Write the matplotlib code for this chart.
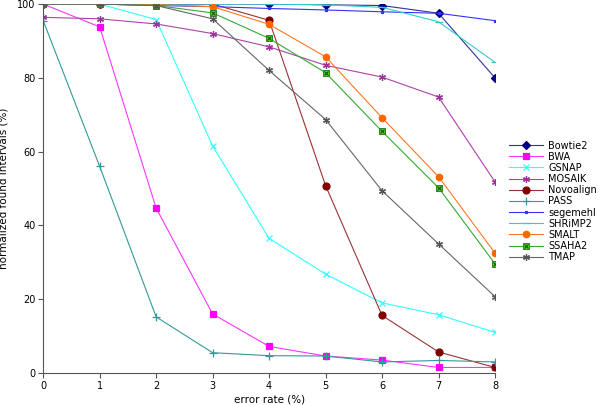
import numpy as np
import matplotlib.pyplot as plt
from matplotlib.lines import Line2D

# ---------------- DATA ----------------
error_rate = [0, 1, 2, 3, 4, 5, 6, 7, 8]

bowtie2 = [100, 100, 100, 100, 100, 99.8, 99.6, 97.5, 80]
bwa = [100, 93.8, 44.7, 16, 7.2, 4.6, 3.5, 1.5, 1.5]
gsnap = [100, 100, 95.8, 61.5, 36.5, 26.8, 19, 15.8, 11]
mosaik = [96.4, 96, 94.6, 92, 88.4, 83.4, 80.2, 74.8, 51.8]
novoalign = [100, 100, 100, 100, 95.6, 50.8, 15.6, 5.7, 1.5]
pass_ = [95.5, 56, 15.2, 5.5, 4.7, 4.6, 3, 3.4, 3]
segemehl = [100, 100, 99.6, 99.3, 98.8, 98.4, 97.9, 97.5, 95.5]
shrimp2 = [100, 100, 100, 100, 100, 99.8, 99.1, 95.2, 84.2]
smalt = [100, 100, 99.8, 99.3, 94.5, 85.7, 69.2, 53.2, 32.5]
ssaha2 = [100, 100, 99.6, 97.6, 90.7, 81.4, 65.5, 50.2, 29.6]
tmap = [100, 100, 99.6, 96, 82, 68.7, 49.4, 35, 20.7]

labels = ["Bowtie2", "BWA", "GSNAP", "MOSAIK", "Novoalign", "PASS",
          "segemehl", "SHRiMP2", "SMALT", "SSAHA2", "TMAP"]
series = [bowtie2, bwa, gsnap, mosaik, novoalign, pass_,
          segemehl, shrimp2, smalt, ssaha2, tmap]

# (line colour, marker, marker colour, marker size)
styles = [
    ("#333399", "D", "#000080", 3.8),
    ("#ff33ff", "s", "#ff00ff", 4.6),
    ("#33ffff", "x", "#33ffff", 5),
    ("#aa44aa", (6, 2, 0), "#993399", 5),
    ("#993333", "o", "#800000", 5),
    ("#339999", "+", "#339999", 6),
    ("#3333ff", "s", "#3333ff", 1.8),
    ("#33cccc", "_", "#33cccc", 5.5),
    ("#ff7722", "o", "#ff6600", 4.6),
    ("#33aa33", "s", "#66cc22", 4.6),
    ("#666666", (6, 2, 0), "#555555", 5),
]

fig = plt.figure(figsize=(6, 4.05), dpi=100)
ax = fig.add_axes([0.072, 0.079, 0.753, 0.911])

handles = []
for lab, ys, (lc, mk, mc, ms) in zip(labels, series, styles):
    if lab == "SSAHA2":
        ax.plot(error_rate, ys, color=lc, lw=0.8, marker="s", ms=ms,
                mfc=mc, mec="#228822", mew=0.7)
        ax.plot(error_rate, ys, ls="none", marker="x", ms=ms - 1.5,
                mec="#115511", mew=0.8)
        h = (Line2D([], [], color=lc, lw=0.8, marker="s", ms=ms, mfc=mc,
                    mec="#228822", mew=0.7),
             Line2D([], [], ls="none", marker="x", ms=ms - 1.5, mec="#115511",
                    mew=0.8))
    else:
        line, = ax.plot(error_rate, ys, color=lc, lw=0.8, marker=mk, ms=ms,
                        mfc=mc, mec=mc, mew=0.9)
        h = line
    handles.append(h)

ax.set_xlim(0, 8)
ax.set_ylim(0, 100)
ax.set_xticks(range(0, 9))
ax.set_yticks(range(0, 101, 20))
ax.spines["top"].set_visible(False)
ax.spines["right"].set_visible(False)
for s in ("left", "bottom"):
    ax.spines[s].set_color("#555555")
ax.tick_params(labelsize=7, length=3.5, color="#555555", pad=2)
ax.set_xlabel("error rate (%)", fontsize=7.5, labelpad=3)
ax.set_ylabel("normalized found intervals (%)", fontsize=7.5, labelpad=6)

ax.legend(handles, labels, loc="upper left", bbox_to_anchor=(1.03, 0.63),
          frameon=False, fontsize=7, handlelength=3.5, labelspacing=0.12,
          handletextpad=0.6, borderpad=0, borderaxespad=0)

fig.savefig("out.png", dpi=100)
